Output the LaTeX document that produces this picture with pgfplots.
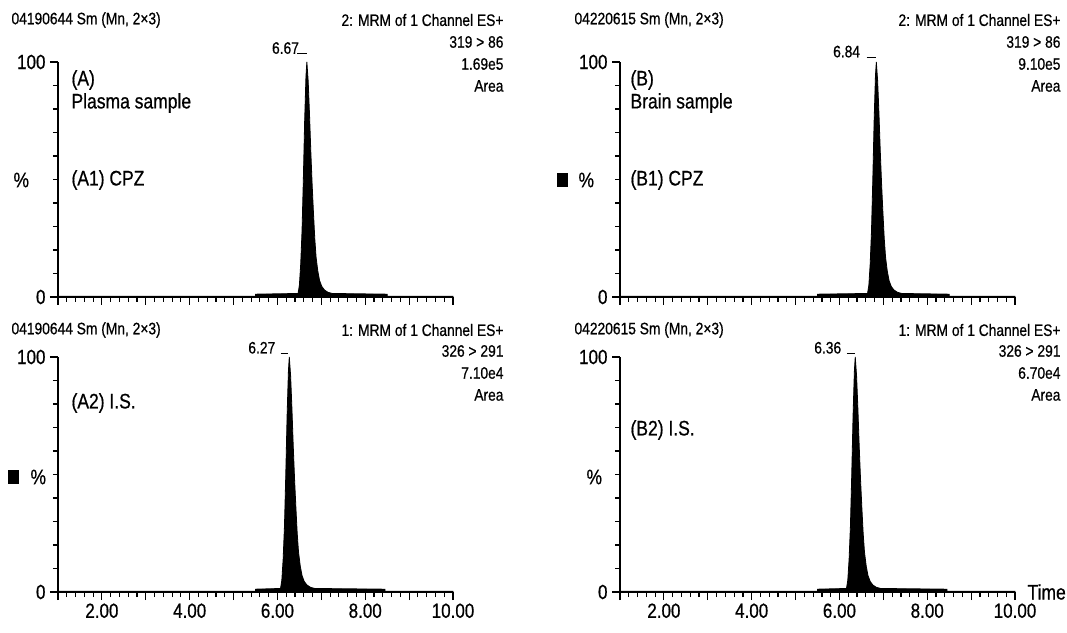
\documentclass[border=0pt]{standalone}
\usepackage{graphicx}
\usepackage{pgfplots}
\pgfplotsset{compat=1.18}
\usepackage{fontspec}
\setmainfont{Liberation Sans}[RawFeature={embolden=0.7}]

\newcommand{\hd}{\fontsize{13.8}{17}\selectfont}
\newcommand{\lb}{\fontsize{17.5}{20}\selectfont}
% the scanned figure is a little taller than wide in its lettering
\newcommand{\T}[1]{\scalebox{1}[1.2]{#1}}

\pgfplotsset{
  chrom/.style={
    scale only axis, width=395pt, height=235pt,
    xmin=1, xmax=10, ymin=0, ymax=100,
    axis lines*=left,
    x axis line style={line width=2.8pt},
    y axis line style={line width=1.5pt},
    xtick={1,2,...,10},
    minor x tick num=4,
    ytick={0,100}, yticklabels={\T{0},\T{100}},
    minor ytick={10,20,...,90},
    tick align=outside,
    major tick length=8pt, minor tick length=5pt,
    every tick/.style={black, line width=1.2pt},
    tick label style={font=\fontsize{17}{19}\selectfont},
    yticklabel style={xshift=-1pt},
    clip=false,
  },
  peak/.style={draw=black, fill=black, line width=0.8pt},
  every node/.append style={inner xsep=0pt},
}

\begin{document}
\begin{tikzpicture}
\path[use as bounding box] (0,0) rectangle (1067pt,632pt);

% (A1) plasma, CPZ
\begin{axis}[chrom, at={(58pt,335pt)}, anchor=south west, xticklabels={}]
\addplot[peak] coordinates {
(1.0,0.3) (5.5,0.3) (5.5,1.2) (6.47,1.5) (6.50,5) (6.53,14) (6.56,28) (6.59,50)
(6.62,75) (6.65,94) (6.67,100) (6.70,92) (6.73,78) (6.76,62) (6.79,48) (6.82,36)
(6.85,25) (6.88,17) (6.92,11) (6.96,7) (7.01,4.5) (7.07,3) (7.15,2) (7.25,1.5)
(8.5,1.2) (8.5,0.3) (10.0,0.3)} \closedcycle;
\draw[line width=1.2pt] (axis cs:6.45,103.5) -- (axis cs:6.67,103.5);
\node[anchor=base east, font=\hd, inner ysep=0pt] at (axis cs:6.57,103.5) {\T{6.67}};
\end{axis}

% (B1) brain, CPZ
\begin{axis}[chrom, at={(620pt,335pt)}, anchor=south west, xticklabels={}]
\addplot[peak] coordinates {
(1.0,0.3) (5.5,0.3) (5.5,1.2) (6.64,1.5) (6.67,5) (6.70,14) (6.73,28) (6.76,50)
(6.79,75) (6.82,94) (6.84,100) (6.87,92) (6.90,78) (6.93,62) (6.96,48) (6.99,36)
(7.02,25) (7.05,17) (7.09,11) (7.13,7) (7.18,4.5) (7.24,3) (7.32,2) (7.42,1.5)
(8.5,1.2) (8.5,0.3) (10.0,0.3)} \closedcycle;
\draw[line width=1.2pt] (axis cs:6.62,102) -- (axis cs:6.84,102);
\node[anchor=base east, font=\hd, inner ysep=0pt] at (axis cs:6.55,102) {\T{6.84}};
\end{axis}

% (A2) plasma, I.S.
\begin{axis}[chrom, at={(58pt,40pt)}, anchor=south west,
  xticklabels={,\T{2.00},,\T{4.00},,\T{6.00},,\T{8.00},,\T{10.00}}]
\addplot[peak] coordinates {
(1.0,0.3) (5.5,0.3) (5.5,1.2) (6.07,1.5) (6.10,5) (6.13,14) (6.16,28) (6.19,50)
(6.22,75) (6.25,94) (6.27,100) (6.30,92) (6.33,78) (6.36,62) (6.39,48) (6.42,36)
(6.45,25) (6.48,17) (6.52,11) (6.56,7) (6.61,4.5) (6.67,3) (6.75,2) (6.85,1.5)
(8.45,1.2) (8.45,0.3) (10.0,0.3)} \closedcycle;
\draw[line width=1.2pt] (axis cs:6.07,101.5) -- (axis cs:6.24,101.5);
\node[anchor=base east, font=\hd, inner ysep=0pt] at (axis cs:6.03,101.5) {\T{6.27}};
\end{axis}

% (B2) brain, I.S.
\begin{axis}[chrom, at={(620pt,40pt)}, anchor=south west,
  xticklabels={,\T{2.00},,\T{4.00},,\T{6.00},,\T{8.00},,\T{10.00}}]
\addplot[peak] coordinates {
(1.0,0.3) (5.5,0.3) (5.5,1.2) (6.16,1.5) (6.19,5) (6.22,14) (6.25,28) (6.28,50)
(6.31,75) (6.34,94) (6.36,100) (6.39,92) (6.42,78) (6.45,62) (6.48,48) (6.51,36)
(6.54,25) (6.57,17) (6.61,11) (6.65,7) (6.70,4.5) (6.76,3) (6.84,2) (6.94,1.5)
(8.45,1.2) (8.45,0.3) (10.0,0.3)} \closedcycle;
\draw[line width=1.2pt] (axis cs:6.17,101.5) -- (axis cs:6.36,101.5);
\node[anchor=base east, font=\hd, inner ysep=0pt] at (axis cs:6.12,101.5) {\T{6.36}};
\end{axis}

% headers, top row
\node[anchor=west, font=\hd] at (8pt,612pt) {\T{04190644 Sm (Mn, 2×3)}};
\node[anchor=east, font=\hd] at (507pt,612pt) {\T{2: MRM of 1 Channel ES+}};
\node[anchor=east, font=\hd] at (507pt,590pt) {\T{319 > 86}};
\node[anchor=east, font=\hd] at (507pt,568pt) {\T{1.69e5}};
\node[anchor=east, font=\hd] at (507pt,546pt) {\T{Area}};
\node[anchor=west, font=\hd] at (571pt,612pt) {\T{04220615 Sm (Mn, 2×3)}};
\node[anchor=east, font=\hd] at (1064pt,612pt) {\T{2: MRM of 1 Channel ES+}};
\node[anchor=east, font=\hd] at (1064pt,590pt) {\T{319 > 86}};
\node[anchor=east, font=\hd] at (1064pt,568pt) {\T{9.10e5}};
\node[anchor=east, font=\hd] at (1064pt,546pt) {\T{Area}};

% headers, bottom row
\node[anchor=west, font=\hd] at (8pt,302pt) {\T{04190644 Sm (Mn, 2×3)}};
\node[anchor=east, font=\hd] at (507pt,302pt) {\T{1: MRM of 1 Channel ES+}};
\node[anchor=east, font=\hd] at (507pt,281pt) {\T{326 > 291}};
\node[anchor=east, font=\hd] at (507pt,259pt) {\T{7.10e4}};
\node[anchor=east, font=\hd] at (507pt,237pt) {\T{Area}};
\node[anchor=west, font=\hd] at (571pt,302pt) {\T{04220615 Sm (Mn, 2×3)}};
\node[anchor=east, font=\hd] at (1064pt,302pt) {\T{1: MRM of 1 Channel ES+}};
\node[anchor=east, font=\hd] at (1064pt,281pt) {\T{326 > 291}};
\node[anchor=east, font=\hd] at (1064pt,259pt) {\T{6.70e4}};
\node[anchor=east, font=\hd] at (1064pt,237pt) {\T{Area}};

% panel labels
\node[anchor=west, font=\lb] at (68pt,552pt) {\T{(A)}};
\node[anchor=west, font=\lb] at (68pt,529pt) {\T{Plasma sample}};
\node[anchor=west, font=\lb] at (68pt,452pt) {\T{(A1) CPZ}};
\node[anchor=west, font=\lb] at (627pt,552pt) {\T{(B)}};
\node[anchor=west, font=\lb] at (627pt,529pt) {\T{Brain sample}};
\node[anchor=west, font=\lb] at (627pt,452pt) {\T{(B1) CPZ}};
\node[anchor=west, font=\lb] at (68pt,229pt) {\T{(A2) I.S.}};
\node[anchor=west, font=\lb] at (627pt,202pt) {\T{(B2) I.S.}};

% y labels and scan marks
\node[anchor=west, font=\lb] at (10pt,452pt) {\T{\%}};
\node[anchor=center] at (562pt,452pt) {\rule{11pt}{14pt}};
\node[anchor=west, font=\lb] at (575pt,452pt) {\T{\%}};
\node[anchor=center] at (14pt,155pt) {\rule{11pt}{14pt}};
\node[anchor=west, font=\lb] at (27pt,155pt) {\T{\%}};
\node[anchor=west, font=\lb] at (583pt,155pt) {\T{\%}};
\node[anchor=west, font=\lb] at (1024pt,40pt) {\T{Time}};
\end{tikzpicture}
\end{document}
